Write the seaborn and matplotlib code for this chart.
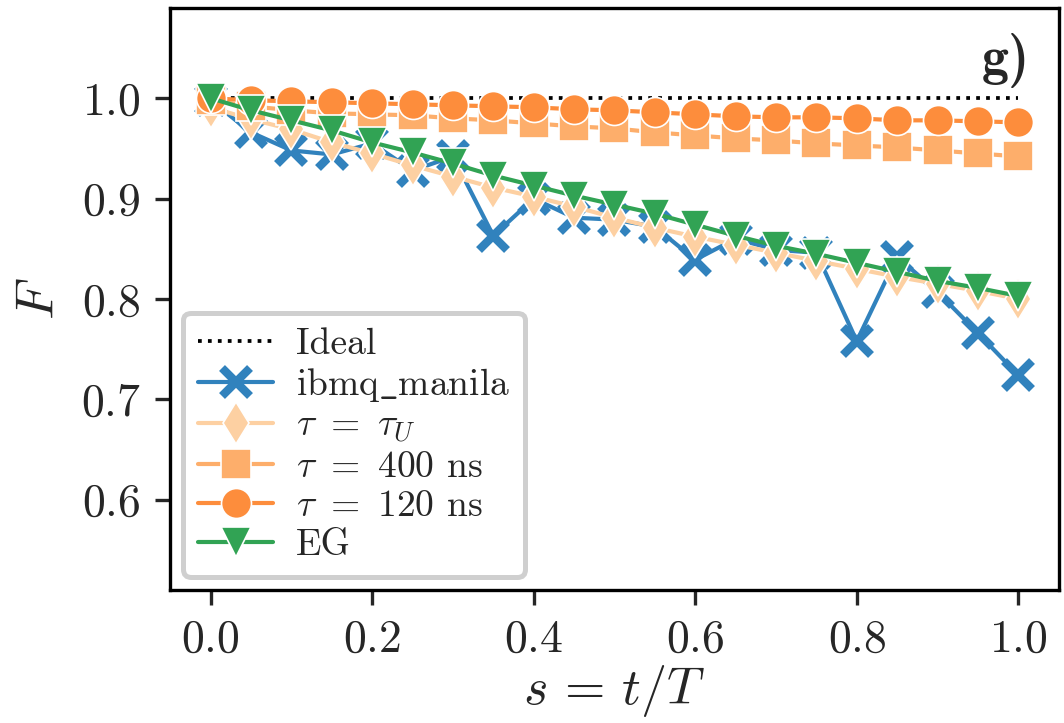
import numpy as np
import matplotlib
matplotlib.use("Agg")
import matplotlib.pyplot as plt
import seaborn as sns

# time grid s = t/T
s = np.round(np.arange(0, 1.0001, 0.05), 2)

ideal_s = [0.0, 1.0]
ideal_F = [1.0, 1.0]

F_manila = [0.998, 0.966, 0.948, 0.944, 0.955, 0.928, 0.942, 0.863, 0.900, 0.881,
            0.879, 0.872, 0.839, 0.860, 0.849, 0.846, 0.758, 0.842, 0.807, 0.766, 0.724]
F_tauU = [0.991, 0.979, 0.969, 0.956, 0.945, 0.933, 0.922, 0.911, 0.902, 0.892,
          0.881, 0.871, 0.862, 0.854, 0.846, 0.838, 0.830, 0.822, 0.815, 0.808, 0.800]
F_400 = [0.998, 0.992, 0.988, 0.985, 0.984, 0.983, 0.980, 0.978, 0.975, 0.972,
         0.970, 0.966, 0.963, 0.960, 0.958, 0.955, 0.953, 0.951, 0.948, 0.945, 0.942]
F_120 = [1.000, 0.998, 0.997, 0.996, 0.995, 0.994, 0.993, 0.992, 0.991, 0.989,
         0.988, 0.986, 0.984, 0.982, 0.981, 0.981, 0.980, 0.978, 0.978, 0.977, 0.976]
F_EG = [1.000, 0.988, 0.978, 0.968, 0.956, 0.946, 0.935, 0.923, 0.913, 0.903,
        0.894, 0.885, 0.874, 0.863, 0.853, 0.845, 0.836, 0.827, 0.818, 0.811, 0.803]

sns.set_style("ticks")
plt.rcParams["font.family"] = "serif"
plt.rcParams["font.serif"] = ["cmr10"]
plt.rcParams["mathtext.fontset"] = "cm"
plt.rcParams["axes.formatter.use_mathtext"] = True
plt.rcParams["axes.unicode_minus"] = False

fig, ax = plt.subplots(figsize=(1064 / 300, 723 / 300), dpi=300)
fig.subplots_adjust(left=0.16, right=0.995, top=0.989, bottom=0.184)

ms = 7.2
lw = 1.0
mk = dict(ms=ms, mew=0.4, mec="white", linestyle="-", lw=lw)
sns.lineplot(x=ideal_s, y=ideal_F, color="black", linestyle=":", lw=0.9, label="Ideal", ax=ax)
sns.lineplot(x=s, y=F_manila, color="#3182bd", marker="x", ms=6.8, mew=2.0, mec="#3182bd",
             linestyle="-", lw=lw, label=r"ibmq$\_$manila", ax=ax)
sns.lineplot(x=s, y=F_tauU, color="#fdd0a2", marker="d", label=r"$\tau\,$ = $\,\tau_U$", ax=ax, **mk)
sns.lineplot(x=s, y=F_400, color="#fdae6b", marker="s", label=r"$\tau\,$ = $\,$400 ns", ax=ax, **mk)
sns.lineplot(x=s, y=F_120, color="#fd8d3c", marker="o", label=r"$\tau\,$ = $\,$120 ns", ax=ax, **mk)
sns.lineplot(x=s, y=F_EG, color="#31a354", marker="v", label="EG", ax=ax, **mk)

ax.set_xlim(-0.05, 1.05)
ax.set_ylim(0.51, 1.09)
ax.set_xticks([0.0, 0.2, 0.4, 0.6, 0.8, 1.0])
ax.set_yticks([0.6, 0.7, 0.8, 0.9, 1.0])
ax.set_xlabel(r"$s\,=\,t/T$", fontsize=12.5, labelpad=0.5)
ax.set_ylabel(r"$F$", fontsize=13)
ax.tick_params(labelsize=11, length=3.6, width=0.8)
for sp in ax.spines.values():
    sp.set_visible(True)
    sp.set_linewidth(0.8)
    sp.set_color("black")

leg = ax.legend(loc="lower left", fontsize=9, labelspacing=0.15, borderaxespad=0.35,
                handletextpad=0.6, fancybox=True, framealpha=1)
leg.get_frame().set_edgecolor("#cfcfcf")
leg.get_frame().set_linewidth(1.2)

ax.text(0.968, 0.91, "g)", transform=ax.transAxes, ha="right", va="center",
        fontsize=13, fontfamily="cmb10")

fig.savefig("out.png", dpi=300)
